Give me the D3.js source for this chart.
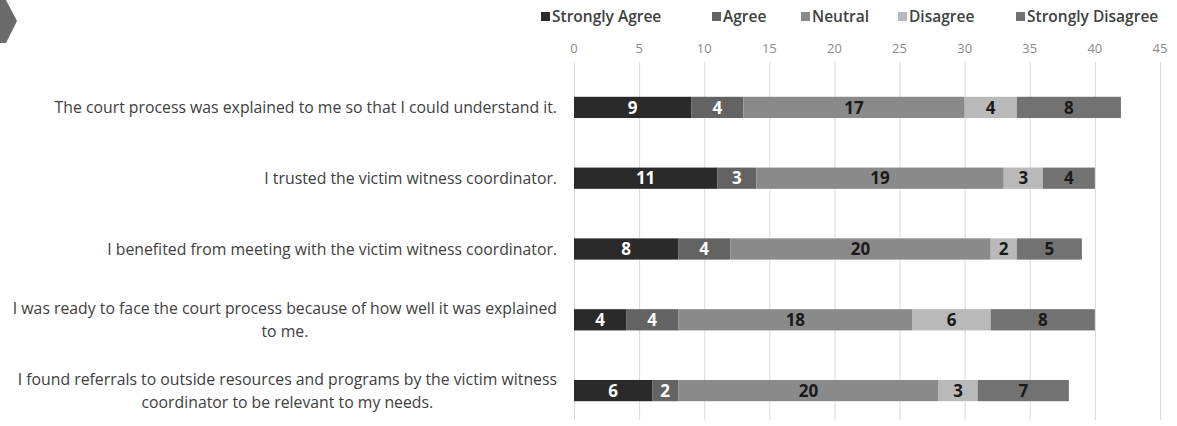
<!DOCTYPE html>
<html>
<head>
<meta charset="utf-8">
<script src="https://cdn.jsdelivr.net/npm/d3@7"></script>
<style>
  body { margin: 0; background: #fff; }
  svg { display: block; font-family: "Open Sans", "Noto Sans", sans-serif; }
</style>
</head>
<body>
<div id="chart"></div>
<script>
// survey statements, top to bottom
const statements = [
    ["The court process was explained to me so that I could understand it."],
    ["I trusted the victim witness coordinator."],
    ["I benefited from meeting with the victim witness coordinator."],
    ["I was ready to face the court process because of how well it was explained", "to me."],
    ["I found referrals to outside resources and programs by the victim witness", "coordinator to be relevant to my needs."]
];
const seriesNames = ["Strongly Agree", "Agree", "Neutral", "Disagree", "Strongly Disagree"];
const stronglyAgree = [9, 11, 8, 4, 6];
const agree = [4, 3, 4, 4, 2];
const neutral = [17, 19, 20, 18, 20];
const disagree = [4, 3, 2, 6, 3];
const stronglyDisagree = [8, 4, 5, 8, 7];
const xTicks = [0, 5, 10, 15, 20, 25, 30, 35, 40, 45];

const colors = ["#2a2a2a", "#636363", "#8a8a8a", "#b9b9b9", "#727272"];
const labelColors = ["#ffffff", "#ffffff", "#1a1a1a", "#1a1a1a", "#1a1a1a"];

const width = 1177;
const height = 426;

const rows = statements.map((s, i) => ({
    index: i,
    values: [stronglyAgree[i], agree[i], neutral[i], disagree[i], stronglyDisagree[i]]
}));
const stacked = d3.stack().keys(d3.range(seriesNames.length)).value((d, k) => d.values[k])(rows);

const svg = d3.select("#chart").append("svg")
    .attr("width", width)
    .attr("height", height);

const x = d3.scaleLinear().domain([0, 45]).range([574, 1160]);
const y = d3.scaleBand().domain(d3.range(statements.length)).range([72, 426]).paddingInner(0.7).paddingOuter(0.35);

// corner chevron decoration
svg.append("path")
    .attr("d", "M0,0 L6,0 L17,21 L6,43 L0,43 Z")
    .attr("fill", "#6a6a6a");

// gridlines
svg.append("g")
    .selectAll("line")
    .data(xTicks)
    .join("line")
    .attr("x1", d => x(d) + 0.5)
    .attr("x2", d => x(d) + 0.5)
    .attr("y1", 62)
    .attr("y2", 420)
    .attr("stroke", "#d9d9d9")
    .attr("stroke-width", 1);

// tick labels
svg.append("g")
    .selectAll("text")
    .data(xTicks)
    .join("text")
    .attr("x", d => x(d))
    .attr("y", 53)
    .attr("text-anchor", "middle")
    .style("font-size", "13px")
    .style("fill", "#8a8a8a")
    .text(d => d);

// bars
const layer = svg.append("g")
    .selectAll("g")
    .data(stacked)
    .join("g")
    .attr("fill", (d, i) => colors[i]);

layer.selectAll("rect")
    .data(d => d)
    .join("rect")
    .attr("x", d => x(d[0]))
    .attr("width", d => x(d[1]) - x(d[0]))
    .attr("y", (d, i) => y(i))
    .attr("height", y.bandwidth());

// value labels
stacked.forEach((s, k) => {
    svg.append("g")
        .selectAll("text")
        .data(s)
        .join("text")
        .attr("x", d => (x(d[0]) + x(d[1])) / 2)
        .attr("y", (d, i) => y(i) + y.bandwidth() / 2)
        .attr("dy", "0.36em")
        .attr("text-anchor", "middle")
        .style("font-size", "17px")
        .style("font-weight", "bold")
        .style("fill", labelColors[k])
        .text(d => d[1] - d[0]);
});

// category labels, lines centred, block right aligned
const labelRight = 557;
const lineGap = 23;
statements.forEach((lines, i) => {
    const g = svg.append("g");
    const cy = y(i) + y.bandwidth() / 2;
    const texts = lines.map((line, j) => g.append("text")
        .attr("y", cy + (j - (lines.length - 1) / 2) * lineGap)
        .attr("dy", "0.35em")
        .attr("text-anchor", "middle")
        .style("font-size", "15.8px")
        .style("fill", "#404040")
        .text(line));
    const maxW = d3.max(texts, t => t.node().getComputedTextLength());
    texts.forEach(t => t.attr("x", labelRight - maxW / 2));
});

// legend
const legendX = [541, 712, 801, 898, 1016];
const legend = svg.append("g")
    .selectAll("g")
    .data(seriesNames)
    .join("g")
    .attr("transform", (d, i) => `translate(${legendX[i]}, 17)`);

legend.append("rect")
    .attr("x", 0)
    .attr("y", -5)
    .attr("width", 9)
    .attr("height", 9)
    .attr("fill", (d, i) => colors[i]);

legend.append("text")
    .attr("x", 11)
    .attr("y", 0)
    .attr("dy", "0.35em")
    .style("font-size", "15.5px")
    .style("font-weight", "600")
    .style("fill", "#404040")
    .text(d => d);
</script>
</body>
</html>
